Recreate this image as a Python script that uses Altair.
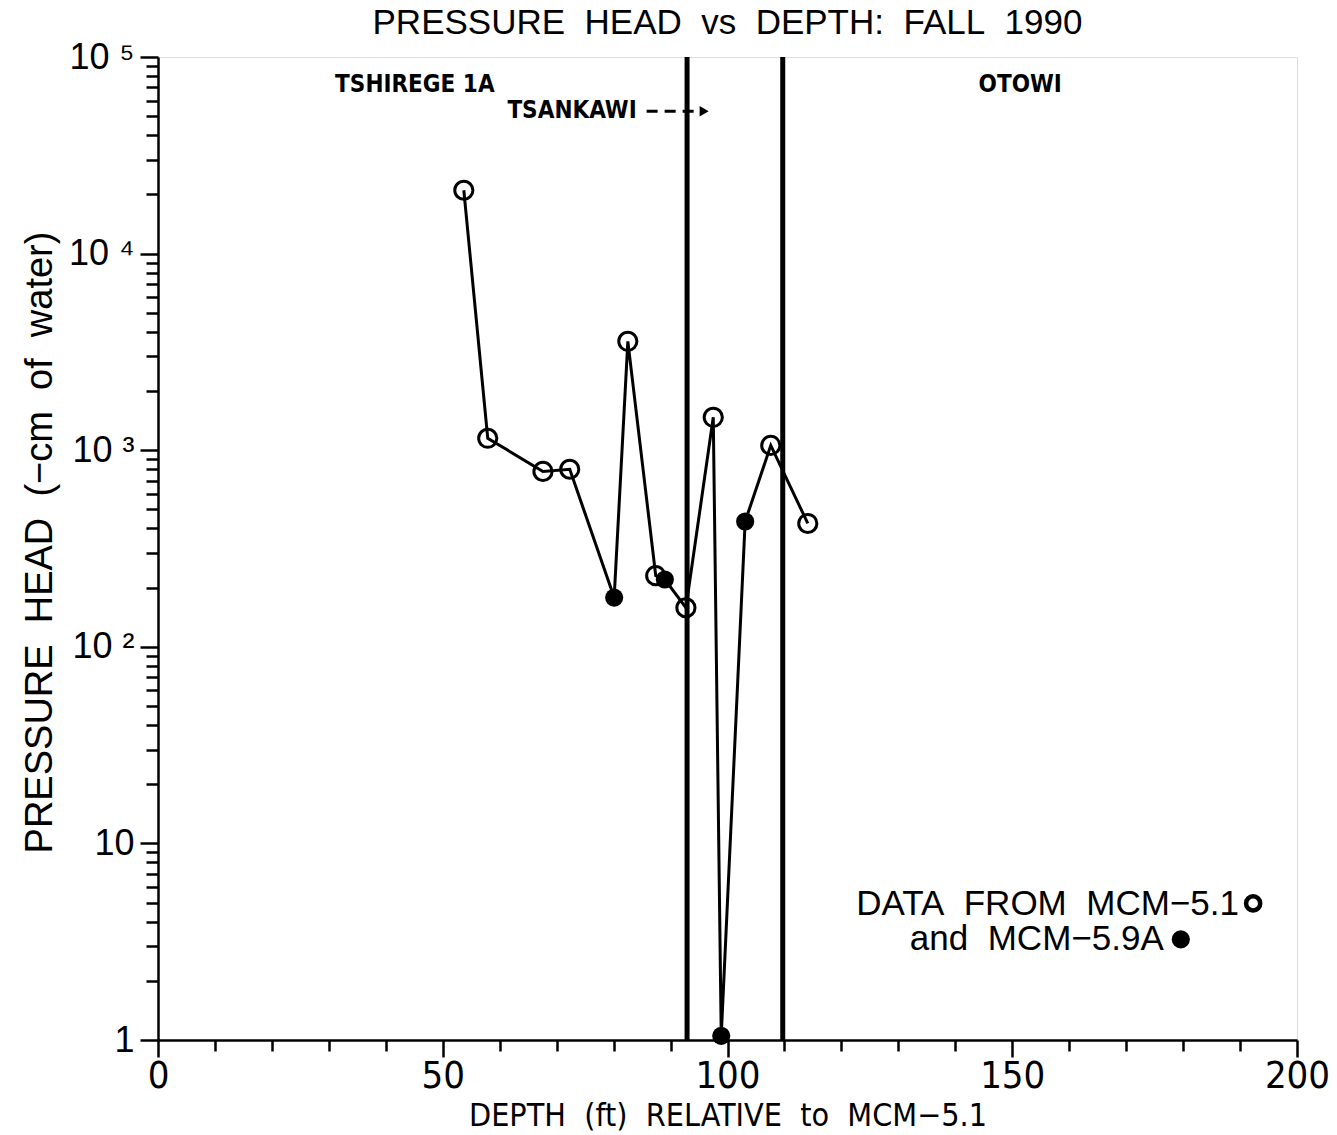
import altair as alt
import pandas as pd

# ---- data ----
depth = [53.7, 57.9, 67.6, 72.3, 80.1, 82.5, 87.4, 89.0, 92.7, 97.5, 98.9, 103.1, 107.6, 114.1]
head = [21000, 1150, 780, 800, 178, 3580, 230, 220, 158, 1470, 1.05, 434, 1058, 424]
well = ["MCM-5.1", "MCM-5.1", "MCM-5.1", "MCM-5.1", "MCM-5.9A", "MCM-5.1", "MCM-5.1",
        "MCM-5.9A", "MCM-5.1", "MCM-5.1", "MCM-5.9A", "MCM-5.9A", "MCM-5.1", "MCM-5.1"]

boundary_depth = [92.9, 109.7]

unit_names = ["TSHIREGE 1A", "TSANKAWI", "OTOWI"]
unit_x = [45.1, 72.7, 151.4]
unit_y = [72000, 53000, 72000]

arrow_x = [85.8]
arrow_x2 = [95.2]
arrow_tip = [95.9]
arrow_y = [53000]

legend_text = ["DATA\u00a0\u00a0FROM\u00a0\u00a0MCM\u22125.1", "and\u00a0\u00a0MCM\u22125.9A"]
legend_text_x = [189.8, 176.6]
legend_text_y = [4.9, 3.25]
legend_marker_x = [192.3, 179.6]
legend_marker_y = [4.95, 3.25]
legend_marker_filled = [False, True]

x_ticks = list(range(0, 201, 5))
y_ticks = [m * 10 ** e for e in range(0, 5) for m in range(1, 10)] + [100000]

FONT = "Liberation Sans"
NARROW = "Liberation Sans Narrow, DejaVu Sans Condensed, Liberation Sans, sans-serif"

df = pd.DataFrame({"depth": depth, "head": head, "well": well})
df_b = pd.DataFrame({"d": boundary_depth})
df_u = pd.DataFrame({"name": unit_names, "x": unit_x, "y": unit_y})
df_a = pd.DataFrame({"x": arrow_x, "x2": arrow_x2, "tip": arrow_tip, "y": arrow_y})
df_lt = pd.DataFrame({"t": legend_text, "x": legend_text_x, "y": legend_text_y})
df_lm = pd.DataFrame({"x": legend_marker_x, "y": legend_marker_y, "f": legend_marker_filled})

xscale = alt.Scale(domain=[0, 200], nice=False, zero=False)
yscale = alt.Scale(type="log", domain=[1, 100000], nice=False)

label_expr = ("datum.value == 1 ? '1' : datum.value == 10 ? '10' : "
              "datum.value == 100 ? '10 \u00b2' : datum.value == 1000 ? '10 \u00b3' : "
              "datum.value == 10000 ? '10 \u2074' : datum.value == 100000 ? '10 \u2075' : ''")

x_axis = alt.Axis(
    title="DEPTH\u00a0\u00a0(ft)\u00a0\u00a0RELATIVE\u00a0\u00a0to\u00a0\u00a0MCM\u22125.1",
    values=x_ticks,
    labelExpr="datum.value % 50 == 0 ? datum.value : ''",
    domain=True, domainColor="black", domainWidth=2.5,
    tickSize={"condition": {"test": "datum.value % 50 == 0", "value": 17}, "value": 11},
    tickWidth=2.5, tickColor="black",
    labelPadding=0, labelFont=NARROW, labelFontSize=38, labelColor="black",
    labelFlush=False, labelOverlap=False,
    titleFont=NARROW, titleFontSize=32, titleFontWeight="normal", titleColor="black",
    titleY=60, titleBaseline="top", grid=False,
)
y_axis = alt.Axis(
    title="PRESSURE\u00a0\u00a0HEAD\u00a0\u00a0(\u2212cm\u00a0\u00a0of\u00a0\u00a0water)",
    values=y_ticks, labelExpr=label_expr,
    domain=True, domainColor="black", domainWidth=2.5,
    tickSize={"condition": {"test": "indexof([1,10,100,1000,10000,100000], datum.value) >= 0", "value": 18}, "value": 12},
    tickWidth=2.5, tickColor="black",
    labelPadding=6, labelFont=FONT, labelFontSize=36, labelColor="black",
    labelOverlap=False, labelFlush=False,
    titleFont=FONT, titleFontSize=38, titleFontWeight="normal", titleColor="black",
    titleX=-118, titleY=485, titleAlign="center", titleBaseline="middle", titleAngle=-90,
    grid=False,
)

base = alt.Chart(df)

line = base.mark_line(color="black", strokeWidth=3).encode(
    x=alt.X("depth:Q", scale=xscale, axis=x_axis),
    y=alt.Y("head:Q", scale=yscale, axis=y_axis),
)
open_pts = base.transform_filter(alt.datum.well == "MCM-5.1").mark_point(
    shape="circle", filled=False, color="black", strokeWidth=3, size=330, opacity=1
).encode(x="depth:Q", y="head:Q")
filled_pts = base.transform_filter(alt.datum.well == "MCM-5.9A").mark_point(
    shape="circle", filled=True, color="black", size=330, opacity=1
).encode(x="depth:Q", y="head:Q")

bounds = alt.Chart(df_b).mark_rule(color="black", strokeWidth=5).encode(x="d:Q")

units = alt.Chart(df_u).mark_text(
    font=NARROW, fontSize=24, fontWeight="bold", color="black", align="center", baseline="middle"
).encode(x="x:Q", y="y:Q", text="name:N")

arrow_line = alt.Chart(df_a).mark_rule(color="black", strokeWidth=3, strokeDash=[11, 7]).encode(
    x="x:Q", x2="x2:Q", y="y:Q")
arrow_head = alt.Chart(df_a).mark_point(
    shape="triangle-right", filled=True, color="black", size=110, opacity=1
).encode(x="tip:Q", y="y:Q")

leg_text = alt.Chart(df_lt).mark_text(
    font=FONT, fontSize=35, color="black", align="right", baseline="middle"
).encode(x="x:Q", y="y:Q", text="t:N")
leg_open = alt.Chart(df_lm).transform_filter("!datum.f").mark_point(
    shape="circle", filled=False, color="black", strokeWidth=4.5, size=200, opacity=1
).encode(x="x:Q", y="y:Q")
leg_fill = alt.Chart(df_lm).transform_filter("datum.f").mark_point(
    shape="circle", filled=True, color="black", size=330, opacity=1
).encode(x="x:Q", y="y:Q")

chart = alt.layer(
    bounds, line, open_pts, filled_pts, units, arrow_line, arrow_head, leg_text, leg_open, leg_fill
).properties(
    width=1139, height=983,
    padding={"left": 158, "top": 57, "right": 40, "bottom": 95},
    autosize=alt.AutoSizeParams(type="none"),
    title=alt.TitleParams(
        "PRESSURE\u00a0\u00a0HEAD\u00a0\u00a0vs\u00a0\u00a0DEPTH:\u00a0\u00a0FALL\u00a0\u00a01990",
        font=FONT, fontSize=35, fontWeight="normal", color="black", offset=-2, anchor="middle",
    ),
).configure_view(stroke="black", strokeWidth=2.5).configure(background="white")

chart.save("out.html", embed_options={"renderer": "svg", "actions": False})
